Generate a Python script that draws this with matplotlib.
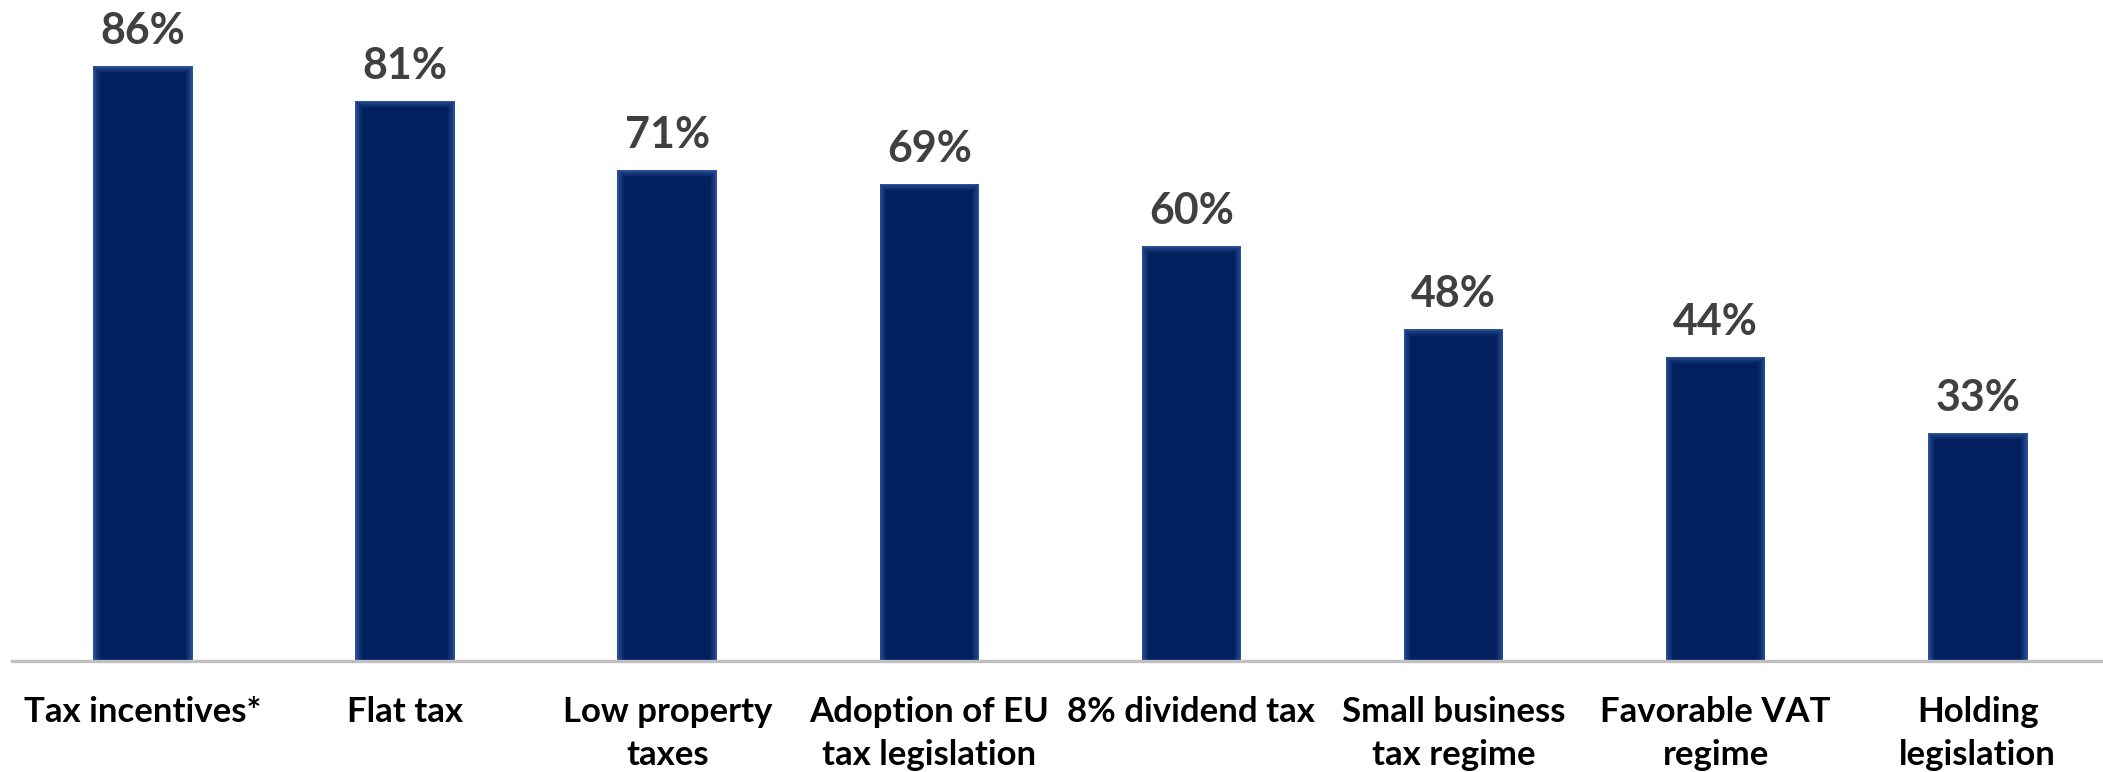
import numpy as np
import matplotlib
matplotlib.use("Agg")
import matplotlib.pyplot as plt
from matplotlib.colors import to_rgb

categories = ["Tax incentives*", "Flat tax", "Low property\ntaxes", "Adoption of EU\ntax legislation",
              "8% dividend tax", "Small business\ntax regime", "Favorable VAT\nregime", "Holding\nlegislation"]
values = [86, 81, 71, 69, 60, 48, 44, 33]
value_labels = ["86%", "81%", "71%", "69%", "60%", "48%", "44%", "33%"]

plt.rcParams['font.family'] = ['Lato', 'DejaVu Sans']

fig = plt.figure(figsize=(21.03, 7.72), dpi=100)
ax = fig.add_axes([12 / 2103, 111 / 772, 2091 / 2103, 661 / 772])

x = np.arange(len(categories))
bar_w = 0.38

# soft inner glow: lighter blue at the edge fading into navy
edge_c = np.array(to_rgb("#3a64ae"))
core_c = np.array(to_rgb("#02205e"))
n_layers = 10
for k in range(n_layers):
    t = ((k + 1) / n_layers) ** 0.6
    col = edge_c * (1 - t) + core_c * t
    inset = k * 0.0031
    hs = [max(v - k * 0.11, 0) for v in values]
    ax.bar(x, hs, width=bar_w - 2 * inset, color=col, linewidth=0, zorder=2 + k)

for xi, v, lab in zip(x, values, value_labels):
    ax.annotate(lab, (xi, v), xytext=(0, 16), textcoords="offset points",
                ha="center", va="baseline", fontsize=31, fontweight="bold", color="#404040")

ax.set_xlim(-0.5, 7.478)
ax.set_ylim(0, 95.6)
ax.set_xticks(x)
ax.set_xticklabels(categories, fontsize=25, fontweight="bold", color="black", linespacing=1.42)
ax.tick_params(axis="x", length=0, pad=25)
ax.set_yticks([])
for s in ["top", "right", "left"]:
    ax.spines[s].set_visible(False)
ax.spines["bottom"].set_color("#bfbfbf")
ax.spines["bottom"].set_linewidth(2.4)
ax.spines["bottom"].set_zorder(20)

fig.savefig("out.png", dpi=100)
